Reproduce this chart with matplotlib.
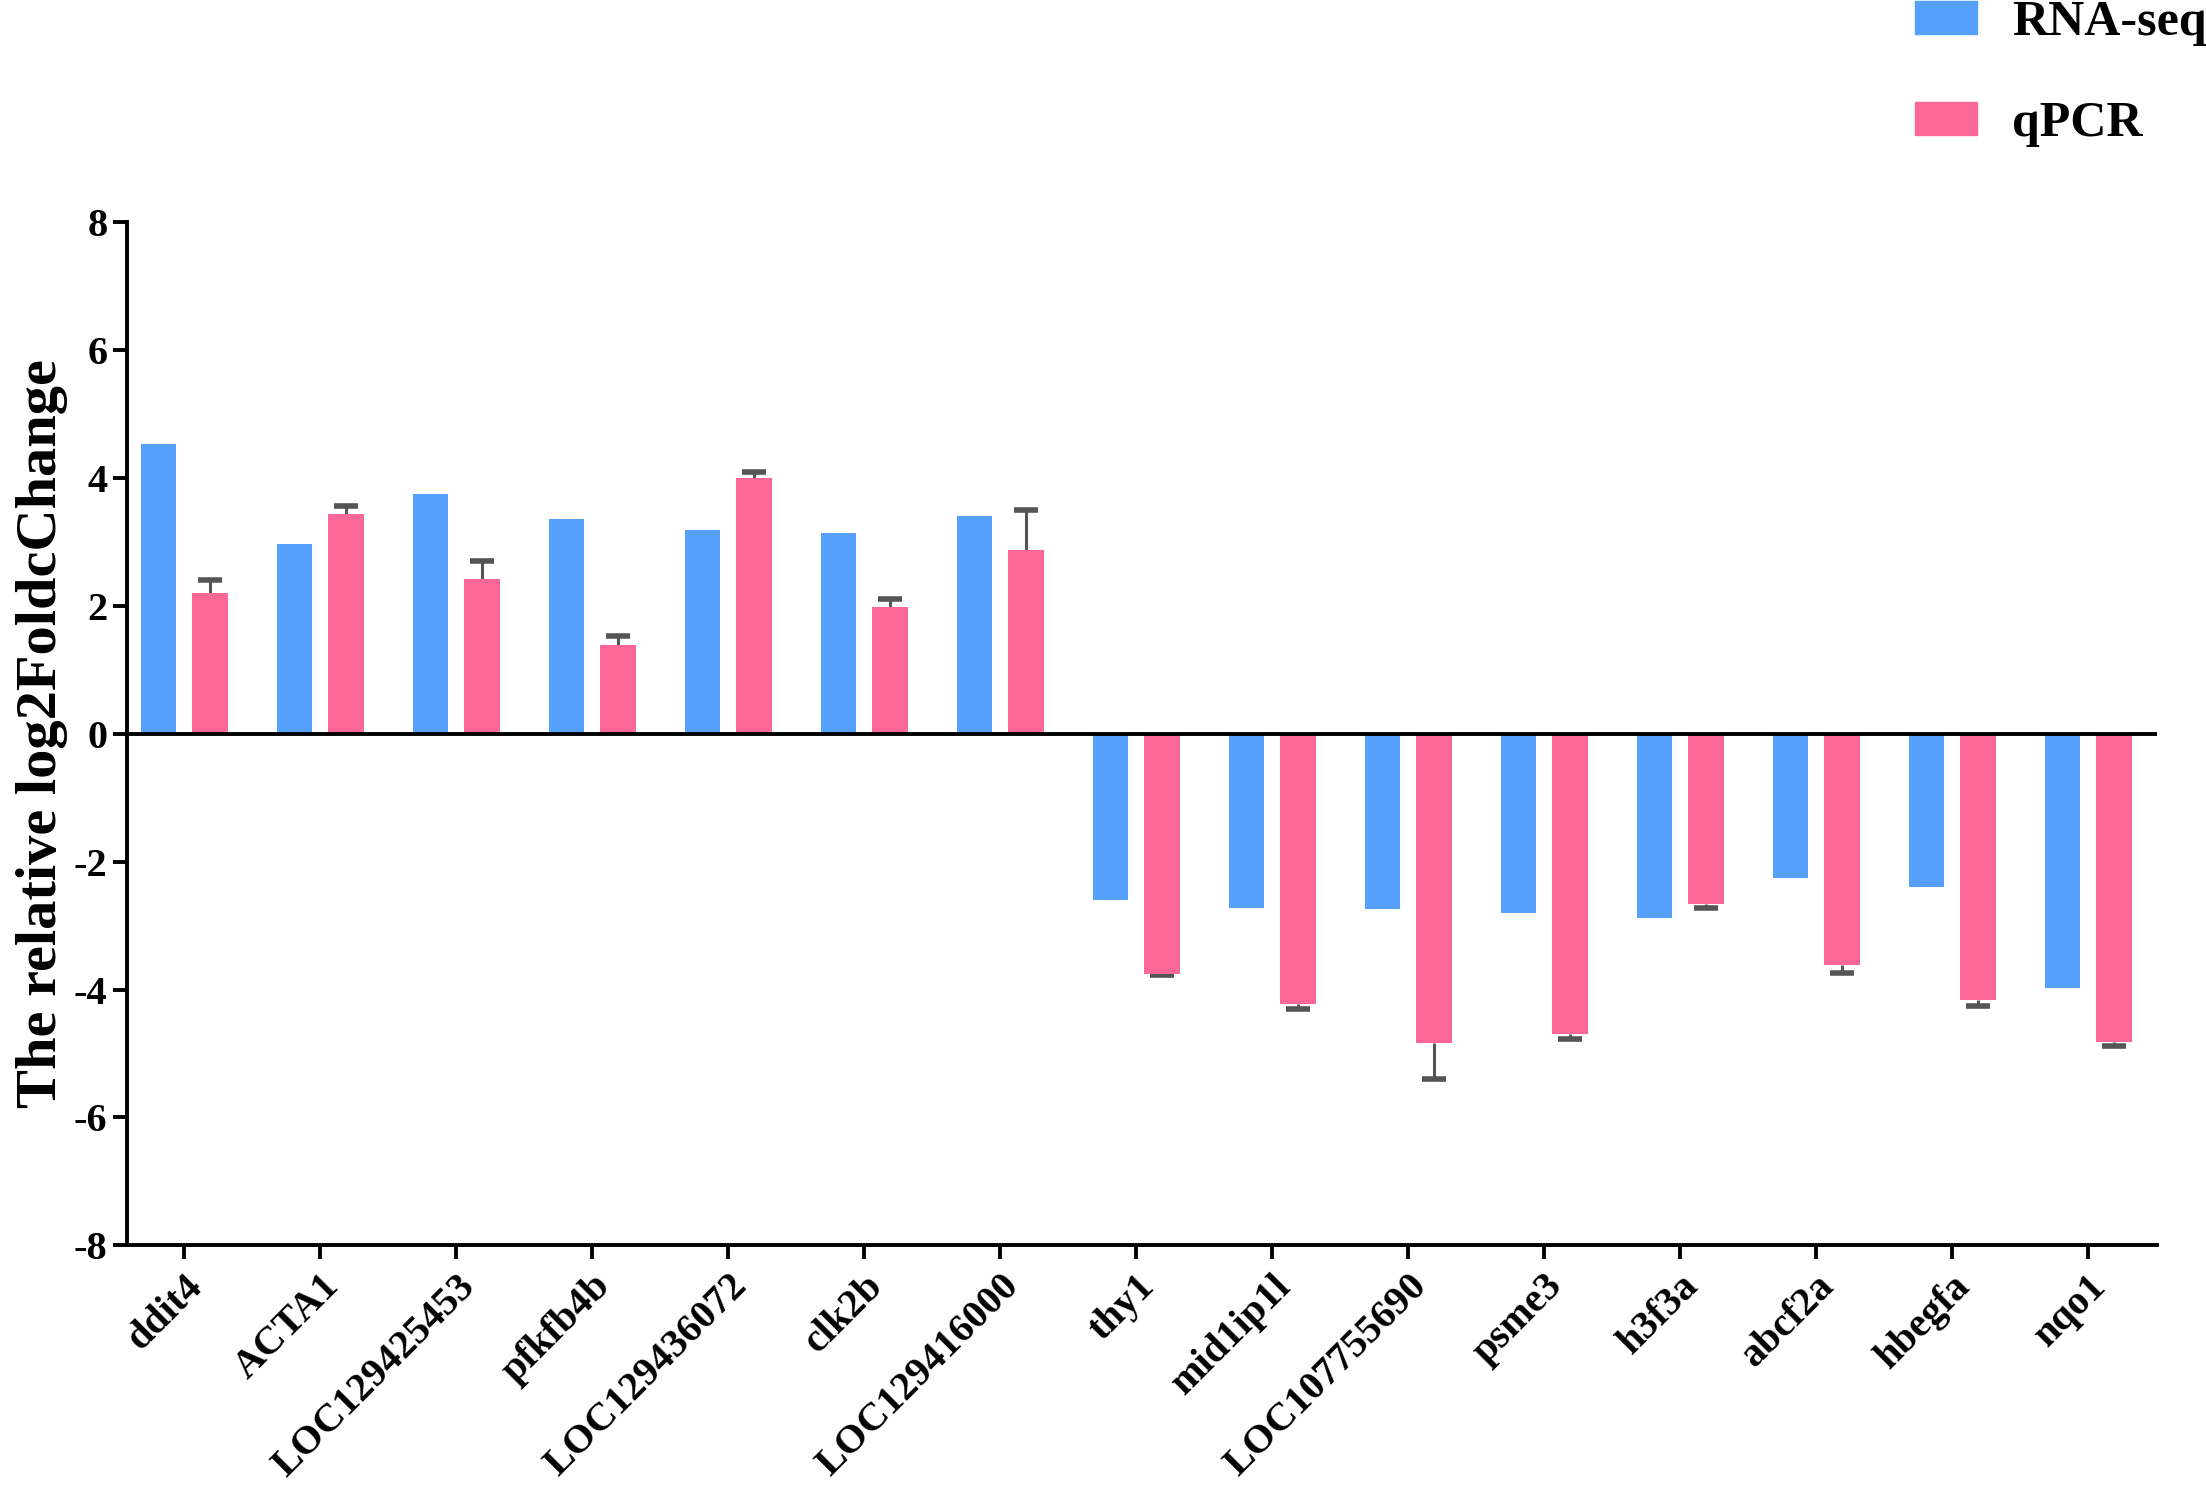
import numpy as np
import matplotlib.pyplot as plt
from matplotlib.patches import Patch

genes = ['ddit4', 'ACTA1', 'LOC129425453', 'pfkfb4b', 'LOC129436072', 'clk2b',
         'LOC129416000', 'thy1', 'mid1ip1l', 'LOC107755690', 'psme3', 'h3f3a',
         'abcf2a', 'hbegfa', 'nqo1']
rna_seq = [4.53, 2.96, 3.74, 3.36, 3.18, 3.13, 3.40,
           -2.60, -2.72, -2.74, -2.81, -2.89, -2.26, -2.39, -3.97]
qpcr = [2.20, 3.43, 2.42, 1.39, 3.99, 1.98, 2.87,
        -3.75, -4.23, -4.84, -4.69, -2.67, -3.61, -4.17, -4.82]
qpcr_err = [0.20, 0.13, 0.28, 0.13, 0.10, 0.12, 0.63,
            0.03, 0.08, 0.56, 0.08, 0.05, 0.13, 0.08, 0.07]

blue = '#55A0FB'
pink = '#FB6797'
grey = '#555555'

plt.rcParams['font.family'] = ['Liberation Serif', 'DejaVu Serif']
plt.rcParams['font.weight'] = 'bold'
plt.rcParams['axes.unicode_minus'] = False

fig = plt.figure(figsize=(22.06, 14.88), dpi=100)
ax = fig.add_axes([0.0576, 0.163, 0.9204, 0.688])

x = np.arange(len(genes))
w = 0.26
ax.bar(x - 0.19, rna_seq, w, color=blue, zorder=2)
ax.bar(x + 0.19, qpcr, w, color=pink, zorder=2)

# one-sided error bars pointing away from zero, cap only at the far end
q = np.array(qpcr)
tip = q + np.sign(q) * np.array(qpcr_err)
ax.vlines(x + 0.19, q, tip, color=grey, lw=2.2, zorder=1)
ax.plot(x + 0.19, tip, ls='none', marker='_', ms=17, mew=4, color=grey, zorder=1)

ax.axhline(0, color='black', lw=2.8, zorder=4)

ax.set_xlim(-0.42, 14.51)
ax.set_ylim(-8, 8)
ax.set_yticks(range(-8, 9, 2))
ax.set_xticks(x)
ax.set_xticklabels(genes, rotation=45, ha='right', rotation_mode='anchor',
                   fontsize=29, fontweight='bold')
for lab in ax.get_yticklabels():
    lab.set_fontsize(29)
    lab.set_fontweight('bold')

for s in ['top', 'right']:
    ax.spines[s].set_visible(False)
for s in ['left', 'bottom']:
    ax.spines[s].set_linewidth(2.8)
ax.tick_params(axis='both', width=2.8, length=10, direction='out')
ax.tick_params(axis='x', pad=6)
ax.tick_params(axis='y', pad=4)

ax.set_ylabel('The relative log2FoldcChange', fontsize=42, fontweight='bold',
              labelpad=4)

handles = [Patch(color=blue, label='RNA-seq'), Patch(color=pink, label='qPCR')]
fig.legend(handles=handles, loc='upper left', bbox_to_anchor=(0.868, 1.0),
           frameon=False, prop={'weight': 'bold', 'size': 36},
           handlelength=1.25, handleheight=0.65, handletextpad=0.7,
           labelspacing=1.1, borderpad=0, borderaxespad=0)

fig.savefig('out.png', dpi=100)
